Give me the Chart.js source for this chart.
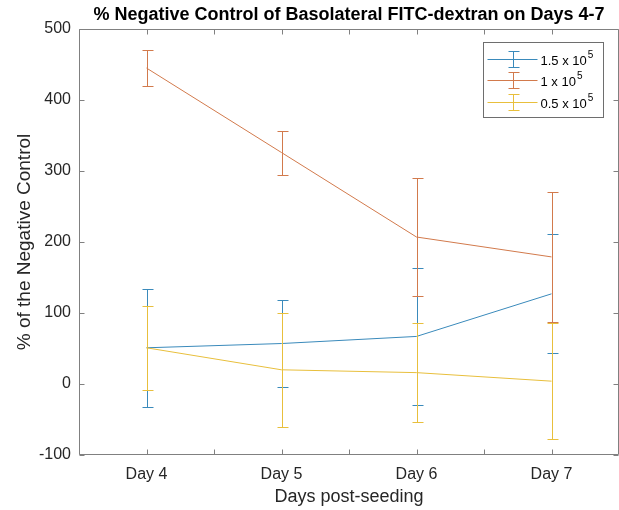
<!DOCTYPE html>
<html><head><meta charset="utf-8">
<script src="https://cdn.jsdelivr.net/npm/chart.js@4"></script>
<style>html,body{margin:0;padding:0;background:#fff}#wrap{width:619px;height:510px;position:relative}</style>
</head><body><div id="wrap"><canvas id="c" width="619" height="510"></canvas></div>
<script>
const chartTitle = '% Negative Control of Basolateral FITC-dextran on Days 4-7';
const xTitle = 'Days post-seeding';
const yTitle = '% of the Negative Control';
const days = [4, 5, 6, 7];
const dayLabels = ['Day 4', 'Day 5', 'Day 6', 'Day 7'];
const seriesNames = ['1.5 x 10', '1 x 10', '0.5 x 10'];
const seriesExp = ['5', '5', '5'];
const mean15 = [51, 57, 67, 127];
const err15 = [83, 61, 97, 84];
const mean10 = [445, 326, 207, 179];
const err10 = [25, 31, 83, 92];
const mean05 = [51, 20, 16, 4];
const err05 = [59, 80, 70, 82];
const yMin = -100, yMax = 500, yStep = 100;

const FONT = "'Liberation Sans', Arial, Helvetica, sans-serif";
const TXT = '#262626';
const AX = '#808080';

function pts(means) { return days.map((d, i) => ({x: d, y: means[i]})); }

const errorBarPlugin = {
  id: 'errbars',
  afterDatasetDraw(chart, args) {
    const ds = chart.data.datasets[args.index];
    if (!ds.errors) return;
    const ctx = chart.ctx, xs = chart.scales.x, ys = chart.scales.y;
    ctx.save();
    ctx.strokeStyle = ds.borderColor; ctx.lineWidth = 1;
    ds.data.forEach((p, i) => {
      const px = Math.round(xs.getPixelForValue(p.x)) + 0.5;
      const t = Math.round(ys.getPixelForValue(p.y + ds.errors[i])) + 0.5;
      const b = Math.round(ys.getPixelForValue(p.y - ds.errors[i])) + 0.5;
      ctx.beginPath();
      ctx.moveTo(px, t); ctx.lineTo(px, b);
      ctx.moveTo(px - 5, t); ctx.lineTo(px + 6, t);
      ctx.moveTo(px - 5, b); ctx.lineTo(px + 6, b);
      ctx.stroke();
    });
    ctx.restore();
  }
};

const framePlugin = {
  id: 'frame',
  afterDatasetsDraw(chart) {
    const ctx = chart.ctx, a = chart.chartArea, xs = chart.scales.x, ys = chart.scales.y;
    const L = Math.round(a.left) + 0.5, R = Math.round(a.right) - 0.5;
    const T = Math.round(a.top) + 0.5, B = Math.round(a.bottom) - 0.5;
    ctx.save();
    ctx.strokeStyle = AX; ctx.lineWidth = 1;
    ctx.beginPath();
    ctx.rect(L, T, R - L, B - T);
    xs.ticks.forEach(t => {
      const px = Math.round(xs.getPixelForValue(t.value)) + 0.5;
      ctx.moveTo(px, B); ctx.lineTo(px, B - 5);
      ctx.moveTo(px, T); ctx.lineTo(px, T + 5);
    });
    ys.ticks.forEach(t => {
      const py = Math.round(ys.getPixelForValue(t.value)) + 0.5;
      ctx.moveTo(L, py); ctx.lineTo(L + 5, py);
      ctx.moveTo(R, py); ctx.lineTo(R - 5, py);
    });
    ctx.stroke();
    ctx.fillStyle = '#000';
    ctx.font = 'bold 18px ' + FONT;
    ctx.textAlign = 'center'; ctx.textBaseline = 'middle';
    ctx.fillText(chartTitle, (a.left + a.right) / 2, 15);
    ctx.restore();
  },
  afterDraw(chart) {
    const ctx = chart.ctx, a = chart.chartArea;
    const bw = 120, bh = 75;
    const bx = Math.round(a.right - 16 - bw) + 0.5, by = Math.round(a.top + 13) + 0.5;
    ctx.save();
    ctx.fillStyle = '#fff';
    ctx.fillRect(bx, by, bw, bh);
    ctx.strokeStyle = '#6e6e6e'; ctx.lineWidth = 1;
    ctx.strokeRect(bx, by, bw, bh);
    chart.data.datasets.forEach((ds, i) => {
      const cy = Math.round(by + 16 + i * 21.8) + 0.5;
      const x0 = bx + 4, x1 = bx + 54, xc = Math.round(bx + 29) + 0.5;
      ctx.strokeStyle = ds.borderColor;
      ctx.beginPath();
      ctx.moveTo(x0, cy); ctx.lineTo(x1, cy);
      ctx.moveTo(xc, cy - 8); ctx.lineTo(xc, cy + 8);
      ctx.moveTo(xc - 5, cy - 8); ctx.lineTo(xc + 6, cy - 8);
      ctx.moveTo(xc - 5, cy + 8); ctx.lineTo(xc + 6, cy + 8);
      ctx.stroke();
      ctx.fillStyle = '#000';
      ctx.textAlign = 'left'; ctx.textBaseline = 'middle';
      ctx.font = '13px ' + FONT;
      const tx = bx + 57;
      ctx.fillText(seriesNames[i], tx, cy + 2);
      const w = ctx.measureText(seriesNames[i]).width;
      ctx.font = '10px ' + FONT;
      ctx.fillText(seriesExp[i], tx + w + 1, cy - 4);
    });
    ctx.restore();
  }
};

new Chart(document.getElementById('c'), {
  type: 'line',
  data: {
    datasets: [
      {label: seriesNames[0] + seriesExp[0], data: pts(mean15), errors: err15, borderColor: '#3a8abb', order: 3},
      {label: seriesNames[1] + seriesExp[1], data: pts(mean10), errors: err10, borderColor: '#d27a4c', order: 2},
      {label: seriesNames[2] + seriesExp[2], data: pts(mean05), errors: err05, borderColor: '#e8bf3c', order: 1}
    ]
  },
  options: {
    responsive: false,
    animation: false,
    devicePixelRatio: 1,
    layout: {padding: {top: 29, right: 0, left: 0, bottom: 0}},
    elements: {line: {borderWidth: 1, tension: 0, fill: false}, point: {radius: 0, hoverRadius: 0}},
    plugins: {legend: {display: false}, tooltip: {enabled: false}, title: {display: false}},
    scales: {
      x: {
        type: 'linear', min: 3.5, max: 7.5,
        afterFit: s => { s.height = 55; s.paddingLeft = 0; s.paddingRight = 0; },
        grid: {display: false, drawTicks: false},
        border: {display: false},
        ticks: {
          stepSize: 0.5, autoSkip: false, maxRotation: 0, padding: 10,
          color: TXT, font: {family: FONT, size: 16},
          callback: v => { const k = days.indexOf(v); return k >= 0 ? dayLabels[k] : ''; }
        },
        title: {display: true, text: xTitle, color: TXT, font: {family: FONT, size: 18}, padding: {top: 2, bottom: 2}}
      },
      y: {
        min: yMin, max: yMax,
        afterFit: s => { s.width = 79; s.paddingTop = 0; s.paddingBottom = 0; },
        grid: {display: false, drawTicks: false},
        border: {display: false},
        ticks: {stepSize: yStep, padding: 8, color: TXT, font: {family: FONT, size: 16}},
        title: {display: true, text: yTitle, color: TXT, font: {family: FONT, size: 19}, padding: {top: 13, bottom: 13}}
      }
    }
  },
  plugins: [errorBarPlugin, framePlugin]
});
</script></body></html>
